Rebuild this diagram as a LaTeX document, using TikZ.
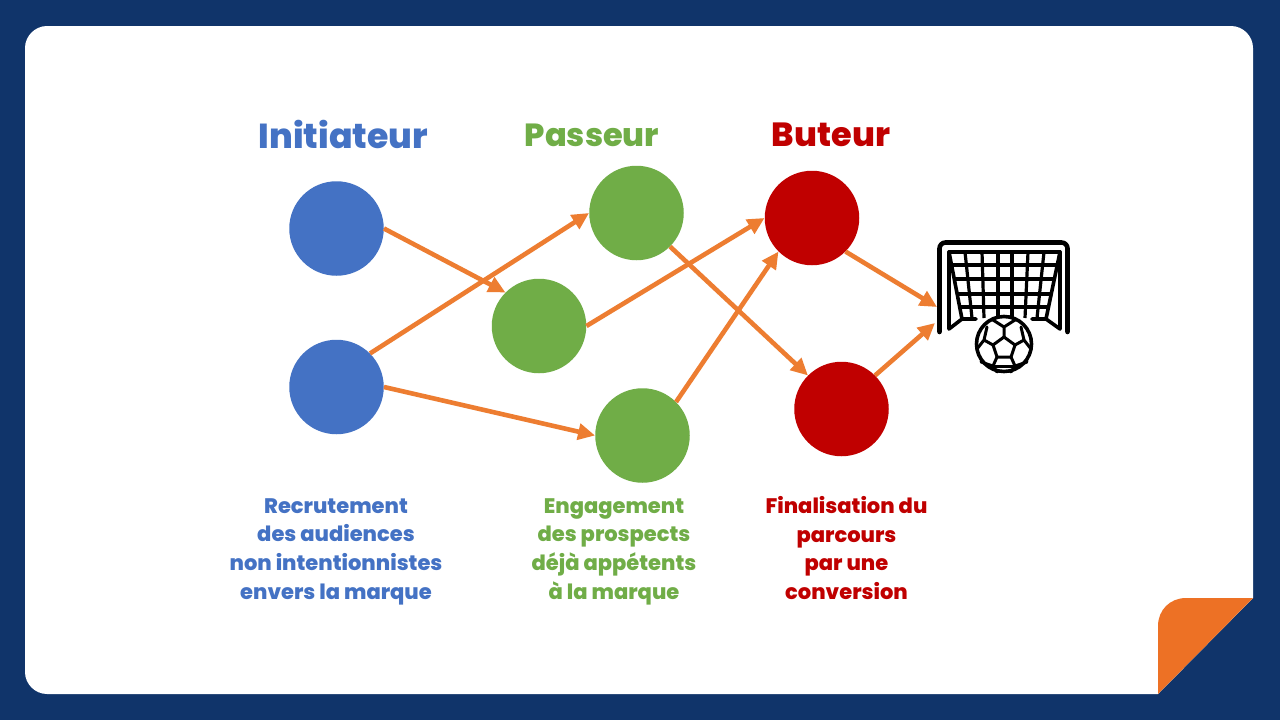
\documentclass[tikz,border=0pt]{standalone}
\usepackage{fontspec}
\setmainfont{Poppins}[BoldFont={Poppins ExtraBold}]
\usetikzlibrary{arrows.meta}
\definecolor{navy}{HTML}{10346A}
\definecolor{orangeC}{HTML}{ED7125}
\definecolor{arrowC}{HTML}{ED7D31}
\definecolor{blueC}{HTML}{4472C4}
\definecolor{greenC}{HTML}{70AD47}
\definecolor{redC}{HTML}{C00000}
\tikzset{
  x=1pt,y=-1pt,
  dot/.style={circle,minimum size=94.5pt,inner sep=0pt,fill=#1},
  arr/.style={draw=arrowC,line width=4.6pt,-{Triangle[length=17pt,width=16pt]}},
  head/.style={font=\fontsize{33.5}{36}\selectfont\bfseries,text=#1,inner sep=0pt},
  desc/.style={font=\fontsize{21}{28.7}\selectfont\bfseries,text=#1,align=center,inner sep=0pt},
  gl/.style={draw=black,line width=3.6pt,line cap=round,line join=round},
  gs/.style={draw=black,line width=3.2pt,line cap=butt,line join=round},
  bs/.style={draw=black,line width=3pt,line cap=round,line join=round},
}
\begin{document}
\begin{tikzpicture}
\useasboundingbox (0,0) rectangle (1280,720);
\fill[navy] (0,0) rectangle (1280,720);
% panel
\fill[white] (47,26) -- (1231,26) .. controls (1243,26) and (1253,36) .. (1253,48) -- (1253,598) -- (1158,694) -- (47,694) .. controls (35,694) and (25,684) .. (25,672) -- (25,48) .. controls (25,36) and (35,26) .. (47,26) -- cycle;
\fill[orangeC] (1158,694) -- (1158,626) .. controls (1158,610) and (1170,598) .. (1186,598) -- (1253,598) -- cycle;
% headings
\node[head=blueC,font=\fontsize{34.7}{36}\selectfont\bfseries] (h1) at (343.5,134) {Initiateur};
\node[head=greenC,font=\fontsize{32}{36}\selectfont\bfseries] (h2) at (592,135) {Passeur};
\node[head=redC] (h3) at (831,134.5) {Buteur};
% circles
\node[dot=blueC] (a1) at (336.5,228.5) {};
\node[dot=blueC] (a2) at (336.5,387) {};
\node[dot=greenC] (b1) at (636.5,213) {};
\node[dot=greenC] (b2) at (539,326) {};
\node[dot=greenC] (b3) at (642.5,435.5) {};
\node[dot=redC] (c1) at (812,218) {};
\node[dot=redC] (c2) at (841.5,409) {};
\coordinate (g1) at (937,307);
\coordinate (g2) at (935,323);
% arrows
\draw[arr] (a1.0) -- (b2.135);
\draw[arr] (a2.45) -- (b1.180);
\draw[arr] (a2.0) -- (b3.180);
\draw[arr] (b1.-45) -- (c2.135);
\draw[arr] (b2.0) -- (c1.180);
\draw[arr] (b3.45) -- (c1.225);
\draw[arr] (c1.-45) -- (g1);
\draw[arr] (c2.45) -- (g2);
% descriptions
\node[desc=blueC] (d1) at (336,551.5) {Recrutement\\des audiences\\non intentionnistes\\envers la marque};
\node[desc=greenC] (d2) at (614,551.5) {Engagement\\des prospects\\déjà appétents\\à la marque};
\node[desc=redC] (d3) at (846.5,548) {Finalisation du\\parcours\\par une\\conversion};
% goal frame
\draw[black,line width=4.6pt,line join=round,line cap=round,rounded corners=6pt] (939.5,332) -- (939.5,242.5) -- (1067.5,242.5) -- (1067.5,332);
\draw[gl] (949,252) -- (1060,252);
\draw[gl] (949,252) -- (949,329) -- (962,319) -- (976,319);
\draw[gl] (1060,252) -- (1060,329) -- (1046,319) -- (1032,319);
\draw[gl] (949,252) -- (962,319);
\draw[gl] (1060,252) -- (1046,319);
% net verticals
\foreach \xa/\xb in {965/972,982/984,998/998,1012/1012,1028/1025,1044/1037}
  \draw[gs] (\xa,252) -- (\xb,318);
% net horizontals
\draw[gs] (951,265) -- (1058,265);
\draw[gs] (954,279) -- (1055,279);
\draw[gs] (957,294) -- (1052,294);
\draw[gs] (960,307) -- (1049,307);
% ball
\node[circle,draw=black,fill=white,line width=3.6pt,minimum size=55pt,inner sep=0pt] (ball) at (1004,344) {};
\draw[bs] (1004,337) -- (1015,345) -- (1011,357) -- (997,357) -- (993,345) -- cycle;
\draw[bs] (1004,337) -- (1004,327) -- (993,320) (1004,327) -- (1015,320);
\draw[bs] (993,345) -- (984,340) -- (987,327) (984,340) -- (977,349);
\draw[bs] (1015,345) -- (1024,340) -- (1021,327) (1024,340) -- (1031,349);
\draw[bs] (997,357) -- (993,366) -- (981,362) (993,366) -- (997,372);
\draw[bs] (1011,357) -- (1015,366) -- (1027,362) (1015,366) -- (1011,372);
\draw[bs] (993,366) -- (1015,366);
\end{tikzpicture}
\end{document}
